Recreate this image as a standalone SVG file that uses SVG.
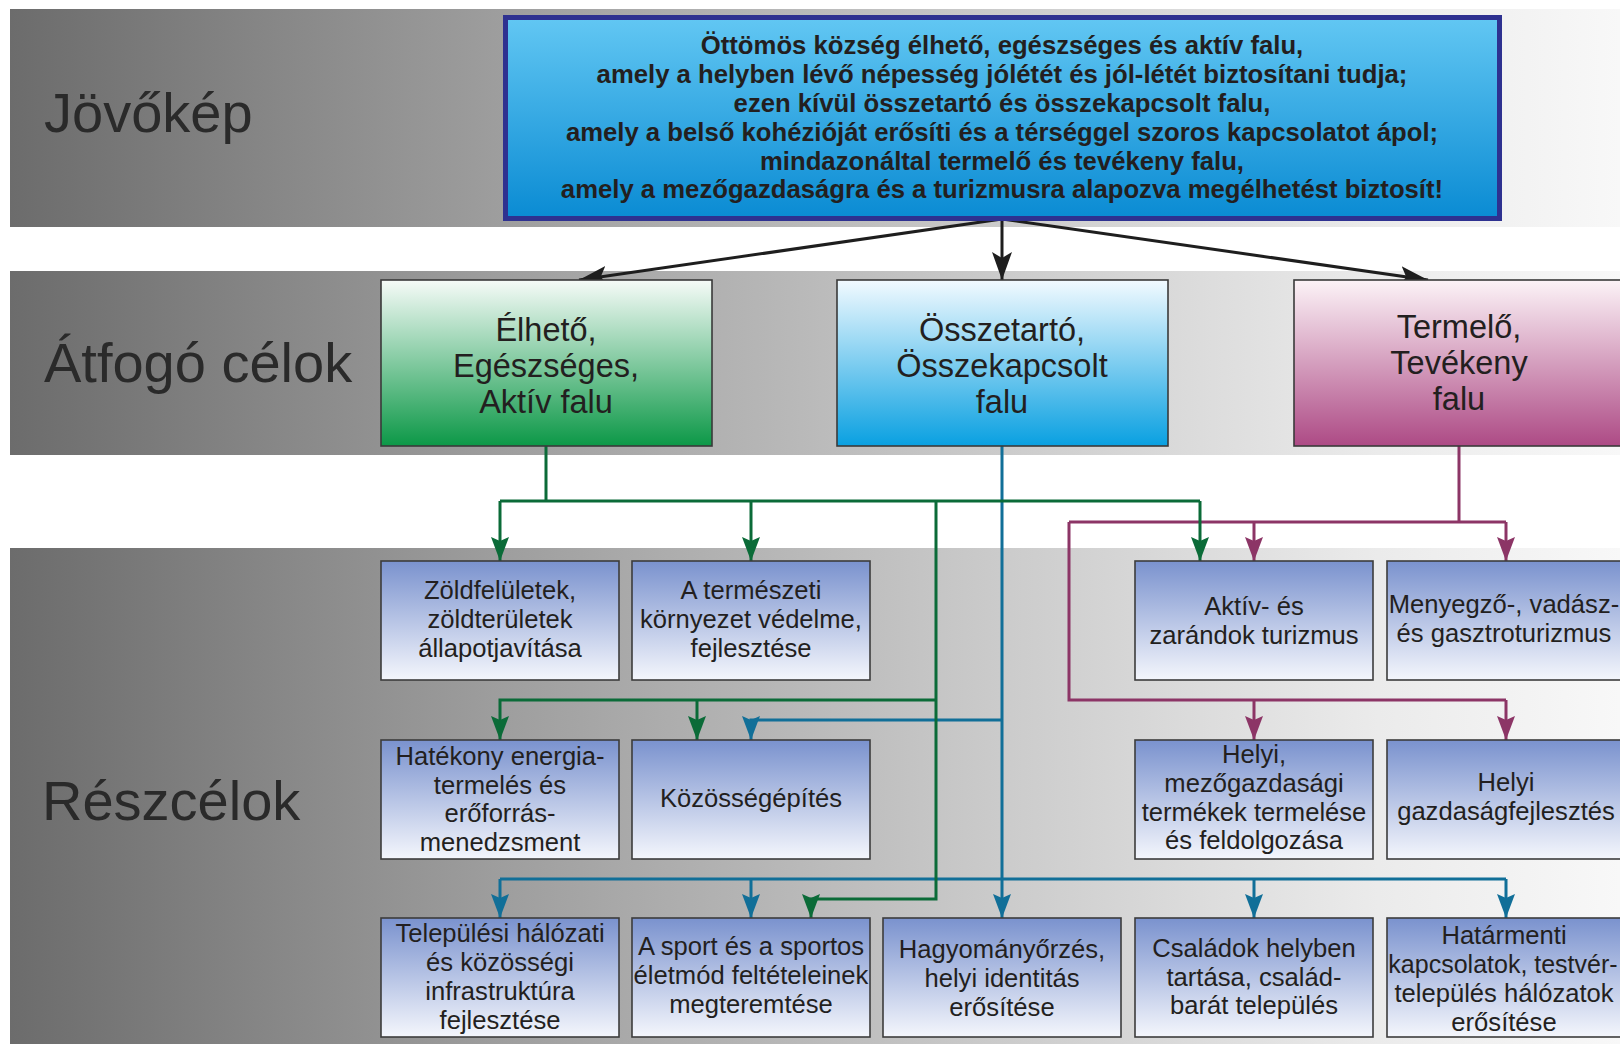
<svg xmlns="http://www.w3.org/2000/svg" width="1620" height="1044" viewBox="0 0 1620 1044">
<defs>
<linearGradient id="band" x1="10" y1="0" x2="1620" y2="0" gradientUnits="userSpaceOnUse">
<stop offset="0" stop-color="#6c6c6c"/>
<stop offset="0.3" stop-color="#9d9d9d"/>
<stop offset="0.6" stop-color="#c9c9c9"/>
<stop offset="0.85" stop-color="#ebebeb"/>
<stop offset="1" stop-color="#f8f8f8"/>
</linearGradient>
<linearGradient id="gVision" x1="0" y1="0" x2="0" y2="1">
<stop offset="0" stop-color="#62c7f3"/>
<stop offset="1" stop-color="#0a8bd3"/>
</linearGradient>
<linearGradient id="gGreen" x1="0" y1="0" x2="0" y2="1">
<stop offset="0" stop-color="#f6fbf8"/>
<stop offset="1" stop-color="#0c9847"/>
</linearGradient>
<linearGradient id="gBlue" x1="0" y1="0" x2="0" y2="1">
<stop offset="0" stop-color="#f2faff"/>
<stop offset="1" stop-color="#09a0e1"/>
</linearGradient>
<linearGradient id="gPink" x1="0" y1="0" x2="0" y2="1">
<stop offset="0" stop-color="#fcf3f7"/>
<stop offset="1" stop-color="#ad4a85"/>
</linearGradient>
<linearGradient id="gSub" x1="0" y1="0" x2="0" y2="1">
<stop offset="0" stop-color="#7a92ce"/>
<stop offset="1" stop-color="#f4f6fc"/>
</linearGradient>
<marker id="aBlack" viewBox="0 0 28 20" refX="28" refY="10" markerWidth="28" markerHeight="20" markerUnits="userSpaceOnUse" orient="auto"><path d="M0,0 L28,10 L0,20 L6,10 z" fill="#1e1e1e"/></marker>
<marker id="aGreen" viewBox="0 0 24 18" refX="24" refY="9" markerWidth="24" markerHeight="18" markerUnits="userSpaceOnUse" orient="auto"><path d="M0,0 L24,9 L0,18 L4,9 z" fill="#0b6b38"/></marker>
<marker id="aBlue" viewBox="0 0 24 18" refX="24" refY="9" markerWidth="24" markerHeight="18" markerUnits="userSpaceOnUse" orient="auto"><path d="M0,0 L24,9 L0,18 L4,9 z" fill="#116f98"/></marker>
<marker id="aPurple" viewBox="0 0 24 18" refX="24" refY="9" markerWidth="24" markerHeight="18" markerUnits="userSpaceOnUse" orient="auto"><path d="M0,0 L24,9 L0,18 L4,9 z" fill="#8c3566"/></marker>
</defs>
<style>
text{font-family:"Liberation Sans",Arial,sans-serif;fill:#231f20;text-anchor:middle}
.lbl{font-size:56px;text-anchor:start;fill:#2a2a2a}
.vis{font-size:25.7px;font-weight:bold}
.top{font-size:32.5px}
.sub{font-size:25.6px}
.band{fill:url(#band)}
.subbox{fill:url(#gSub);stroke:#3c3c3c;stroke-width:1.6}
.topbox{stroke:#3a3a3a;stroke-width:1.6}
.c{fill:none;stroke-width:3}
.k{stroke:#1e1e1e}
.g{stroke:#0b6b38}
.b{stroke:#116f98}
.p{stroke:#8c3566}
</style>
<rect width="1620" height="1044" fill="#ffffff"/>
<g id="bands">
<rect class="band" x="10" y="9" width="1610" height="218"/>
<rect class="band" x="10" y="271" width="1610" height="184"/>
<rect class="band" x="10" y="548" width="1610" height="496"/>
<text class="lbl" x="44" y="132">Jövőkép</text>
<text class="lbl" x="44" y="382">Átfogó célok</text>
<text class="lbl" x="42" y="820">Részcélok</text>
</g>
<g id="connectors">
<path class="c k" d="M1002,219 L579,280" marker-end="url(#aBlack)"/>
<path class="c k" d="M1002,219 L1002,280" marker-end="url(#aBlack)"/>
<path class="c k" d="M1002,219 L1428,280" marker-end="url(#aBlack)"/>
<path class="c p" d="M1459,446 V522 M1069,522 H1506 M1069,522 V700 H1506"/>
<path class="c p" d="M1254,522 V561" marker-end="url(#aPurple)"/>
<path class="c p" d="M1506,522 V561" marker-end="url(#aPurple)"/>
<path class="c p" d="M1254,700 V740" marker-end="url(#aPurple)"/>
<path class="c p" d="M1506,700 V740" marker-end="url(#aPurple)"/>
<path class="c b" d="M1002,446 V918" marker-end="url(#aBlue)"/>
<path class="c b" d="M1002,720 H751 V740" marker-end="url(#aBlue)"/>
<path class="c b" d="M500,879 H1506"/>
<path class="c b" d="M500,879 V918" marker-end="url(#aBlue)"/>
<path class="c b" d="M751,879 V918" marker-end="url(#aBlue)"/>
<path class="c b" d="M1254,879 V918" marker-end="url(#aBlue)"/>
<path class="c b" d="M1506,879 V918" marker-end="url(#aBlue)"/>
<path class="c g" d="M546,446 V501 M500,501 H1200"/>
<path class="c g" d="M500,501 V561" marker-end="url(#aGreen)"/>
<path class="c g" d="M751,501 V561" marker-end="url(#aGreen)"/>
<path class="c g" d="M1200,501 V561" marker-end="url(#aGreen)"/>
<path class="c g" d="M936,501 V899 H811 V918" marker-end="url(#aGreen)"/>
<path class="c g" d="M936,700 H500 V740" marker-end="url(#aGreen)"/>
<path class="c g" d="M697,700 V740" marker-end="url(#aGreen)"/>
</g>
<g id="vision">
<rect x="505.5" y="17.5" width="994" height="201" fill="url(#gVision)" stroke="#2e3190" stroke-width="5"/>
<text class="vis" x="1002" y="54">Öttömös község élhető, egészséges és aktív falu,</text>
<text class="vis" x="1002" y="83">amely a helyben lévő népesség jólétét és jól-létét biztosítani tudja;</text>
<text class="vis" x="1002" y="112">ezen kívül összetartó és összekapcsolt falu,</text>
<text class="vis" x="1002" y="141">amely a belső kohézióját erősíti és a térséggel szoros kapcsolatot ápol;</text>
<text class="vis" x="1002" y="170">mindazonáltal termelő és tevékeny falu,</text>
<text class="vis" x="1002" y="198">amely a mezőgazdaságra és a turizmusra alapozva megélhetést biztosít!</text>
</g>
<g id="goal-green">
<rect class="topbox" x="381" y="280" width="331" height="166" fill="url(#gGreen)"/>
<text class="top" x="546" y="341">Élhető,</text>
<text class="top" x="546" y="377">Egészséges,</text>
<text class="top" x="546" y="413">Aktív falu</text>
</g>
<g id="goal-blue">
<rect class="topbox" x="837" y="280" width="331" height="166" fill="url(#gBlue)"/>
<text class="top" x="1002" y="341">Összetartó,</text>
<text class="top" x="1002" y="377">Összekapcsolt</text>
<text class="top" x="1002" y="413">falu</text>
</g>
<g id="goal-pink">
<rect class="topbox" x="1294" y="280" width="331" height="166" fill="url(#gPink)"/>
<text class="top" x="1459" y="338">Termelő,</text>
<text class="top" x="1459" y="374">Tevékeny</text>
<text class="top" x="1459" y="410">falu</text>
</g>
<g id="sub-zold">
<rect class="subbox" x="381" y="561" width="238" height="119"/>
<text class="sub" x="500" y="599">Zöldfelületek,</text>
<text class="sub" x="500" y="628">zöldterületek</text>
<text class="sub" x="500" y="657">állapotjavítása</text>
</g>
<g id="sub-termeszeti">
<rect class="subbox" x="632" y="561" width="238" height="119"/>
<text class="sub" x="751" y="599">A természeti</text>
<text class="sub" x="751" y="628">környezet védelme,</text>
<text class="sub" x="751" y="657">fejlesztése</text>
</g>
<g id="sub-aktiv">
<rect class="subbox" x="1135" y="561" width="238" height="119"/>
<text class="sub" x="1254" y="615">Aktív- és</text>
<text class="sub" x="1254" y="644">zarándok turizmus</text>
</g>
<g id="sub-menyegzo">
<rect class="subbox" x="1387" y="561" width="238" height="119"/>
<text class="sub" x="1504" y="613">Menyegző-, vadász-</text>
<text class="sub" x="1504" y="642">és gasztroturizmus</text>
</g>
<g id="sub-energia">
<rect class="subbox" x="381" y="740" width="238" height="119"/>
<text class="sub" x="500" y="765">Hatékony energia-</text>
<text class="sub" x="500" y="794">termelés és</text>
<text class="sub" x="500" y="822">erőforrás-</text>
<text class="sub" x="500" y="851">menedzsment</text>
</g>
<g id="sub-kozosseg">
<rect class="subbox" x="632" y="740" width="238" height="119"/>
<text class="sub" x="751" y="807">Közösségépítés</text>
</g>
<g id="sub-helyi-mezo">
<rect class="subbox" x="1135" y="740" width="238" height="119"/>
<text class="sub" x="1254" y="763">Helyi,</text>
<text class="sub" x="1254" y="792">mezőgazdasági</text>
<text class="sub" x="1254" y="821">termékek termelése</text>
<text class="sub" x="1254" y="849">és feldolgozása</text>
</g>
<g id="sub-helyi-gazd">
<rect class="subbox" x="1387" y="740" width="238" height="119"/>
<text class="sub" x="1506" y="791">Helyi</text>
<text class="sub" x="1506" y="820">gazdaságfejlesztés</text>
</g>
<g id="sub-telepulesi">
<rect class="subbox" x="381" y="918" width="238" height="119"/>
<text class="sub" x="500" y="942">Települési hálózati</text>
<text class="sub" x="500" y="971">és közösségi</text>
<text class="sub" x="500" y="1000">infrastruktúra</text>
<text class="sub" x="500" y="1029">fejlesztése</text>
</g>
<g id="sub-sport">
<rect class="subbox" x="632" y="918" width="238" height="119"/>
<text class="sub" x="751" y="955">A sport és a sportos</text>
<text class="sub" x="751" y="984">életmód feltételeinek</text>
<text class="sub" x="751" y="1013">megteremtése</text>
</g>
<g id="sub-hagyomany">
<rect class="subbox" x="883" y="918" width="238" height="119"/>
<text class="sub" x="1002" y="958">Hagyományőrzés,</text>
<text class="sub" x="1002" y="987">helyi identitás</text>
<text class="sub" x="1002" y="1016">erősítése</text>
</g>
<g id="sub-csaladok">
<rect class="subbox" x="1135" y="918" width="238" height="119"/>
<text class="sub" x="1254" y="957">Családok helyben</text>
<text class="sub" x="1254" y="986">tartása, család-</text>
<text class="sub" x="1254" y="1014">barát település</text>
</g>
<g id="sub-hatarmenti">
<rect class="subbox" x="1387" y="918" width="238" height="119"/>
<text class="sub" x="1504" y="944">Határmenti</text>
<text class="sub" x="1503" y="973" style="font-size:25px">kapcsolatok, testvér-</text>
<text class="sub" x="1504" y="1002">település hálózatok</text>
<text class="sub" x="1504" y="1031">erősítése</text>
</g>
</svg>
